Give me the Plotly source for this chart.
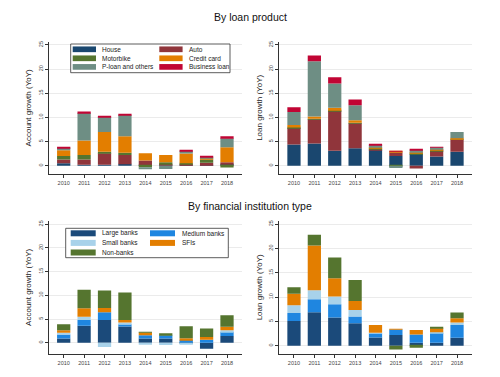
import plotly.graph_objects as go

# ---------------- data ----------------
years = [2010, 2011, 2012, 2013, 2014, 2015, 2016, 2017, 2018]
year_labels = [str(y) for y in years]
y_ticks = [0, 5, 10, 15, 20, 25]

product_names = ["House", "Auto", "Motorbike", "Credit card", "P-loan and others", "Business loan"]
fi_names = ["Large banks", "Medium banks", "Small banks", "SFIs", "Non-banks"]

# Account growth by loan product
acct_house     = [0.5, 0.2, 0.2, 0.3, 0.1, 0.1, 0.2, 0.2, 0.3]
acct_auto      = [0.8, 1.1, 2.4, 1.9, 1.0, 0.3, 0.2, 0.4, 0.4]
acct_motorbike = [0.7, 0.9, 0.3, 0.5, -0.3, 0.3, 0.1, 0.7, -0.4]
acct_credit    = [1.2, 3.0, 4.1, 3.4, 1.5, 1.5, 2.0, 0.3, 3.1]
acct_ploan     = [0.5, 5.7, 3.1, 4.4, -0.45, -0.7, 0.6, 0.1, 1.9]
acct_business  = [0.2, 0.3, 0.2, 0.2, 0.0, 0.0, 0.1, 0.2, 0.4]

# Loan growth by loan product
loan_house     = [4.4, 4.6, 3.1, 3.6, 3.3, 2.0, 2.4, 1.9, 2.9]
loan_auto      = [3.4, 5.0, 8.2, 5.2, 0.2, 0.8, -0.6, 1.2, 2.5]
loan_motorbike = [0.1, 0.1, 0.1, 0.1, 0.1, -0.2, 0.1, 0.1, 0.1]
loan_credit    = [0.5, 0.5, 0.6, 0.5, 0.3, 0.1, 0.2, 0.3, 0.2]
loan_ploan     = [2.7, 11.4, 5.0, 3.1, 0.4, -0.3, 0.6, 0.3, 1.3]
loan_business  = [1.0, 1.2, 1.3, 1.2, 0.1, 0.2, 0.1, 0.1, 0.0]

# Account growth by financial institution type
acct_large  = [0.9, 3.6, 4.8, 3.4, 0.9, 0.9, 0.2, -1.25, 1.4]
acct_medium = [0.85, 1.2, 1.6, 0.5, 0.7, 0.7, 0.4, 0.6, 0.9]
acct_small  = [0.35, 0.7, -0.9, 0.35, -0.3, -0.5, -0.3, 0.0, 0.35]
acct_sfi    = [0.55, 1.75, 0.9, 0.55, 0.55, 0.0, 0.35, 0.6, 0.7]
acct_nonbank = [1.25, 3.9, 3.7, 5.8, 0.1, 0.4, 2.5, 1.8, 2.45]

# Loan growth by financial institution type
loan_large  = [5.1, 6.85, 5.8, 4.6, 1.7, 2.2, 0.6, 0.6, 1.65]
loan_medium = [1.6, 2.7, 2.7, 1.4, 0.85, 1.15, 1.7, 2.05, 2.6]
loan_small  = [1.6, 1.85, 1.6, 1.35, 0.1, 0.0, 0.0, 0.1, 0.5]
loan_sfi    = [2.4, 9.2, 3.75, 1.85, 1.6, 0.05, 0.9, 0.85, 0.9]
loan_nonbank = [1.3, 2.2, 4.3, 4.3, 0.0, -0.8, -0.4, 0.15, 1.15]

# ---------------- style ----------------
product_colors = ["#1a476f", "#90353b", "#55752f", "#e37e00", "#6e8e84", "#c10534"]
fi_colors = ["#1b4a7a", "#1f86e0", "#a8d2ea", "#e37e00", "#55752f"]
FONT = "Liberation Sans, Arial, sans-serif"
W, H = 500, 377


def px_x(x):
    return x / W


def px_y(y):
    return 1 - y / H


fig = go.Figure()

panels = [
    ("x", "y", product_colors, [acct_house, acct_auto, acct_motorbike, acct_credit, acct_ploan, acct_business]),
    ("x2", "y2", product_colors, [loan_house, loan_auto, loan_motorbike, loan_credit, loan_ploan, loan_business]),
    ("x3", "y3", fi_colors, [acct_large, acct_medium, acct_small, acct_sfi, acct_nonbank]),
    ("x4", "y4", fi_colors, [loan_large, loan_medium, loan_small, loan_sfi, loan_nonbank]),
]
for xa, ya, cols, series in panels:
    names = product_names if len(series) == 6 else fi_names
    for name, vals, c in zip(names, series, cols):
        fig.add_trace(go.Bar(x=years, y=vals, name=name, marker_color=c,
                             marker_line_width=0, width=0.65, showlegend=False,
                             xaxis=xa, yaxis=ya))

xr = [2009.28, 2018.72]
common_x = dict(tickvals=years, ticktext=year_labels, range=xr, showgrid=False,
                zeroline=False, showline=True, linecolor="#333", linewidth=1,
                ticks="outside", ticklen=3, tickcolor="#333", tickwidth=1,
                tickfont=dict(size=5.5, color="#444", family=FONT), fixedrange=True)
common_y = dict(tickvals=y_ticks, ticktext=[str(t) for t in y_ticks], tickangle=-90,
                showgrid=True, gridcolor="#ebebeb", gridwidth=0.7, zeroline=False,
                showline=True, linecolor="#333", linewidth=1, ticks="outside",
                ticklen=3, tickcolor="#333", tickwidth=1,
                tickfont=dict(size=5.5, color="#444", family=FONT), fixedrange=True)

top_dom = [px_y(174), px_y(41.7)]
bot_dom = [px_y(354), px_y(220.7)]
left_dom = [px_x(49), px_x(241.7)]
right_dom = [px_x(279.3), px_x(471.7)]

ytitle_font = dict(size=8, color="#222", family=FONT)
fig.update_layout(
    xaxis=dict(domain=left_dom, anchor="y", **common_x),
    yaxis=dict(domain=top_dom, anchor="x", range=[-1.72, 25.67],
               title=dict(text="Account growth (YoY)", font=ytitle_font, standoff=4), **common_y),
    xaxis2=dict(domain=right_dom, anchor="y2", **common_x),
    yaxis2=dict(domain=top_dom, anchor="x2", range=[-1.72, 25.67],
                title=dict(text="Loan growth (YoY)", font=ytitle_font, standoff=4), **common_y),
    xaxis3=dict(domain=left_dom, anchor="y3", **common_x),
    yaxis3=dict(domain=bot_dom, anchor="x3", range=[-2.38, 25.73],
                title=dict(text="Account growth (YoY)", font=ytitle_font, standoff=4), **common_y),
    xaxis4=dict(domain=right_dom, anchor="y4", **common_x),
    yaxis4=dict(domain=bot_dom, anchor="x4", range=[-1.71, 25.7],
                title=dict(text="Loan growth (YoY)", font=ytitle_font, standoff=4), **common_y),
)

annotations = [
    dict(text="By loan product", x=0.5, y=px_y(17), xref="paper", yref="paper",
         showarrow=False, font=dict(size=10.5, color="#111", family=FONT),
         xanchor="center", yanchor="middle"),
    dict(text="By financial institution type", x=0.5, y=px_y(206), xref="paper", yref="paper",
         showarrow=False, font=dict(size=10.5, color="#111", family=FONT),
         xanchor="center", yanchor="middle"),
]
shapes = []


def add_legend(names, colors, box, col_key_x, col_text_x, row_y, key_w, key_h):
    x0, y0, x1, y1 = box
    shapes.append(dict(type="rect", xref="paper", yref="paper",
                       x0=px_x(x0), x1=px_x(x1), y0=px_y(y1), y1=px_y(y0),
                       line=dict(color="#333", width=0.8), fillcolor="white", layer="above"))
    for i, (n, c) in enumerate(zip(names, colors)):
        col, row = i % 2, i // 2
        kx = col_key_x[col]
        ky = row_y[row]
        shapes.append(dict(type="rect", xref="paper", yref="paper",
                           x0=px_x(kx), x1=px_x(kx + key_w),
                           y0=px_y(ky + key_h / 2), y1=px_y(ky - key_h / 2),
                           line=dict(width=0), fillcolor=c, layer="above"))
        annotations.append(dict(text=n, x=px_x(col_text_x[col]), y=px_y(ky),
                                xref="paper", yref="paper", showarrow=False,
                                xanchor="left", yanchor="middle",
                                font=dict(size=6.5, color="#222", family=FONT)))


add_legend(product_names, product_colors, (70.7, 44, 230, 72.7),
           [72.7, 159.3], [100, 186.7], [49.3, 58.3, 66.9], 23.3, 5.7)
add_legend(fi_names, fi_colors, (65.7, 228.3, 228.3, 257.7),
           [70.7, 150], [100, 180], [233.3, 242.9, 252.5], 25, 6)

fig.update_layout(
    annotations=annotations, shapes=shapes,
    barmode="relative", bargap=0.35,
    width=W, height=H, margin=dict(l=0, r=0, t=0, b=0),
    paper_bgcolor="white", plot_bgcolor="white",
    font=dict(family=FONT, color="#222"),
)

fig.write_html("out.html", include_plotlyjs=True, full_html=True,
               config={"displayModeBar": False, "responsive": False},
               post_script="document.body.style.margin='0';document.body.style.padding='0';")
